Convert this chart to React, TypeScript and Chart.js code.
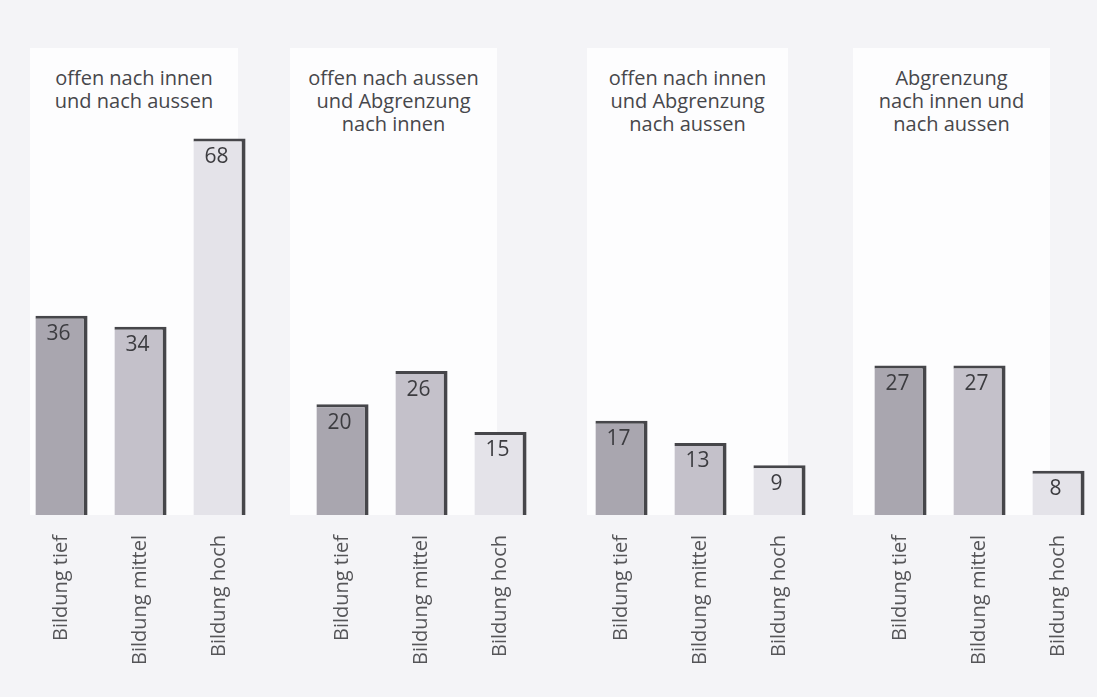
import React, { useEffect, useRef } from "react";
import { Chart, registerables } from "chart.js";

Chart.register(...registerables);

const groupTitles: string[][] = [
  ["offen nach innen", "und nach aussen"],
  ["offen nach aussen", "und Abgrenzung", "nach innen"],
  ["offen nach innen", "und Abgrenzung", "nach aussen"],
  ["Abgrenzung", "nach innen und", "nach aussen"],
];

const categories: string[] = ["Bildung tief", "Bildung mittel", "Bildung hoch"];

const valuesOffenOffen: number[] = [36, 34, 68];
const valuesAussenOffen: number[] = [20, 26, 15];
const valuesInnenOffen: number[] = [17, 13, 9];
const valuesAbgrenzung: number[] = [27, 27, 8];

const groupValues: number[][] = [valuesOffenOffen, valuesAussenOffen, valuesInnenOffen, valuesAbgrenzung];

const barColors: string[] = ["#a9a6af", "#c4c1ca", "#e4e3e9"];

const FONT = '"Open Sans", "DejaVu Sans", sans-serif';

// layout (positions, not data)
const chartLefts = [22, 303, 582, 861];
const chartWidth = 237;
const panels = [
  { left: 30, width: 208 },
  { left: 290, width: 207 },
  { left: 587, width: 201 },
  { left: 853, width: 197 },
];

const valueLabelPlugin = {
  id: "valueLabels",
  afterDatasetsDraw(chart: any) {
    const ctx = chart.ctx;
    const meta = chart.getDatasetMeta(0);
    const data = chart.data.datasets[0].data as number[];
    ctx.save();
    ctx.font = `21px ${FONT}`;
    ctx.fillStyle = "#3c3c40";
    ctx.textAlign = "center";
    ctx.textBaseline = "top";
    meta.data.forEach((bar: any, i: number) => {
      ctx.fillText(String(data[i]), bar.x - 3, bar.y + 8);
    });
    ctx.restore();
  },
};

function GroupChart({ values }: { values: number[] }) {
  const ref = useRef<HTMLCanvasElement | null>(null);
  useEffect(() => {
    if (!ref.current) return;
    const chart = new Chart(ref.current, {
      type: "bar",
      data: {
        labels: categories,
        datasets: [
          {
            data: values,
            backgroundColor: barColors,
            borderColor: "#46464a",
            borderWidth: { top: 3, right: 4, left: 0, bottom: 0 },
            borderSkipped: false,
            barPercentage: 0.66,
            categoryPercentage: 1,
          },
        ],
      },
      options: {
        animation: false,
        responsive: false,
        maintainAspectRatio: false,
        layout: { padding: 0 },
        plugins: {
          legend: { display: false },
          tooltip: { enabled: false },
          title: { display: false },
        },
        scales: {
          x: {
            grid: { display: false, drawTicks: false },
            border: { display: false },
            ticks: {
              color: "#555558",
              font: { family: FONT, size: 20 },
              minRotation: 90,
              maxRotation: 90,
              padding: 20,
              autoSkip: false,
            },
            afterFit: (scale: any) => {
              scale.height = 182;
              scale.paddingLeft = 0;
              scale.paddingRight = 0;
            },
          },
          y: {
            display: false,
            min: 0,
            max: 93,
          },
        },
      },
      plugins: [valueLabelPlugin],
    });
    return () => chart.destroy();
  }, [values]);
  return <canvas ref={ref} width={chartWidth} height={697} style={{ display: "block" }} />;
}

export default function App() {
  return (
    <div
      style={{
        position: "absolute",
        left: 0,
        top: 0,
        width: 1097,
        height: 697,
        overflow: "hidden",
        background: "#f4f4f7",
      }}
    >
      {panels.map((p, i) => (
        <div
          key={"p" + i}
          style={{
            position: "absolute",
            left: p.left,
            top: 48,
            width: p.width,
            height: 467,
            background: "#fdfdfe",
            boxSizing: "border-box",
            paddingTop: 18,
            textAlign: "center",
            fontFamily: FONT,
            fontSize: 20,
            lineHeight: "23px",
            color: "#47474b",
            whiteSpace: "nowrap",
          }}
        >
          {groupTitles[i].map((line, j) => (
            <div key={j}>{line}</div>
          ))}
        </div>
      ))}
      {groupValues.map((vals, i) => (
        <div key={"c" + i} style={{ position: "absolute", left: chartLefts[i], top: 0 }}>
          <GroupChart values={vals} />
        </div>
      ))}
    </div>
  );
}
